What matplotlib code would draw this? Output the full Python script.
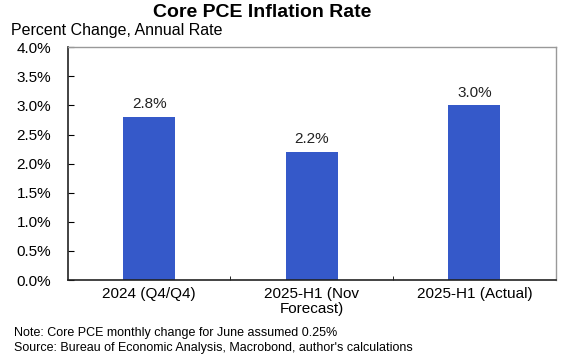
import matplotlib
matplotlib.use("Agg")
import matplotlib.pyplot as plt
from matplotlib.ticker import FuncFormatter

plt.rcParams['font.family'] = ['Liberation Sans', 'DejaVu Sans']

categories = ["2024 (Q4/Q4)", "2025-H1 (Nov\nForecast)", "2025-H1 (Actual)"]
values = [2.8, 2.2, 3.0]
labels = ["2.8%", "2.2%", "3.0%"]

fig = plt.figure(figsize=(5.7, 3.6), dpi=100)
ax = fig.add_axes([0.119, 0.222, 0.856, 0.647])

x = range(len(categories))
bars = ax.bar(x, values, width=0.32, color="#3559c9", zorder=2)

for i, v in enumerate(values):
    ax.text(i, v + 0.1, labels[i], ha="center", va="bottom", fontsize=11, color="#222222")

ax.set_xlim(-0.5, 2.5)
ax.set_ylim(0, 4.0)
ax.set_yticks([i * 0.5 for i in range(9)])
ax.yaxis.set_major_formatter(FuncFormatter(lambda v, p: "%.1f%%" % v))
ax.set_xticks(list(x))
ax.set_xticklabels(categories, fontsize=11, linespacing=1.1)
ax.tick_params(axis="y", direction="in", length=4, labelsize=11, pad=12)
ax.tick_params(axis="x", length=0, pad=5)

# small separators between categories
ax.set_xticks([0.5, 1.5], minor=True)
ax.tick_params(axis="x", which="minor", direction="in", length=3)

for s in ["left", "bottom"]:
    ax.spines[s].set_color("#222222")
    ax.spines[s].set_linewidth(1.2)
for s in ["top", "right"]:
    ax.spines[s].set_color("#999999")
    ax.spines[s].set_linewidth(1.0)

fig.text(0.46, 0.965, "Core PCE Inflation Rate", ha="center", va="center",
         fontsize=14, fontweight="bold")
fig.text(0.02, 0.915, "Percent Change, Annual Rate", ha="left", va="center", fontsize=11.5)
fig.text(0.025, 0.075, "Note: Core PCE monthly change for June assumed 0.25%",
         ha="left", va="center", fontsize=9)
fig.text(0.025, 0.033, "Source: Bureau of Economic Analysis, Macrobond, author's calculations",
         ha="left", va="center", fontsize=9)

fig.savefig("out.png", dpi=100)
